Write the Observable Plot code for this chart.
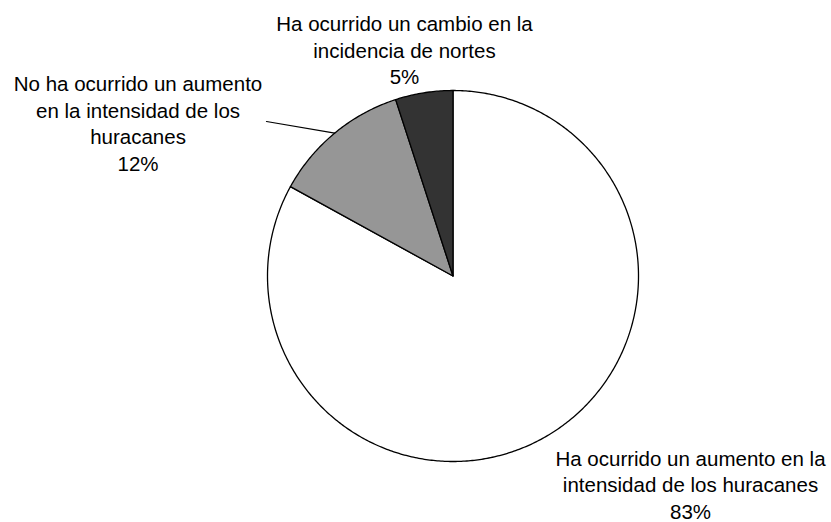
<!DOCTYPE html>
<html><head><meta charset="utf-8">
<script src="https://cdn.jsdelivr.net/npm/d3@7"></script>
<script src="https://cdn.jsdelivr.net/npm/@observablehq/plot@0.6"></script>
<style>body{margin:0;background:#fff}#chart svg{display:block}</style>
</head><body><div id="chart"></div>
<script>
// Data
const categories = [
  "Ha ocurrido un aumento en la\nintensidad de los huracanes",
  "No ha ocurrido un aumento\nen la intensidad de los\nhuracanes",
  "Ha ocurrido un cambio en la\nincidencia de nortes"
];
const values = [83, 12, 5];
const percentLabels = ["83%", "12%", "5%"];
const colors = ["#ffffff", "#969696", "#333333"];

// Layout (label anchors in pie-radius units, centre = 0,0, y downward)
const labelPos = [[1.2803, 0.9229], [-1.698, -1.096], [-0.2615, -1.4194]];
const leaderStart = [[-1.0054, -0.8329]];
const leaderSlice = 1;

const arcs = d3.pie().sort(null).value(d => d)(values);
const pt = a => [Math.sin(a), -Math.cos(a)];
const slices = arcs.map((a, i) => {
  const ring = [[0, 0]];
  const n = Math.max(2, Math.ceil((a.endAngle - a.startAngle) / 0.01));
  for (let k = 0; k <= n; k++) ring.push(pt(a.startAngle + (a.endAngle - a.startAngle) * k / n));
  ring.push([0, 0]);
  return {type: "Feature", properties: {i, fill: colors[i]}, geometry: {type: "Polygon", coordinates: [ring]}};
});
const labels = categories.map((c, i) => ({text: c + "\n" + percentLabels[i], x: labelPos[i][0], y: labelPos[i][1]}));
const mid = (arcs[leaderSlice].startAngle + arcs[leaderSlice].endAngle) / 2;
const leader = [leaderStart[0], pt(mid)];

const chart = Plot.plot({
  width: 831,
  height: 522,
  marginLeft: 267,
  marginRight: 193,
  marginTop: 90,
  marginBottom: 61,
  projection: {type: "identity", domain: {type: "MultiPoint", coordinates: [[-1, -1], [1, 1]]}, clip: false},
  style: {fontFamily: "'Liberation Sans', Arial, sans-serif", background: "#fff"},
  marks: [
    Plot.geo(slices, {fill: d => d.properties.fill, stroke: "#000", strokeWidth: 1.3}),
    Plot.line(leader, {x: d => d[0], y: d => d[1], stroke: "#000", strokeWidth: 1.2}),
    Plot.text(labels, {x: "x", y: "y", text: "text", lineAnchor: "top", textAnchor: "middle", fontSize: 20.5, lineHeight: 1.29, fill: "#000"})
  ]
});
document.getElementById("chart").appendChild(chart);
</script>
</body></html>
